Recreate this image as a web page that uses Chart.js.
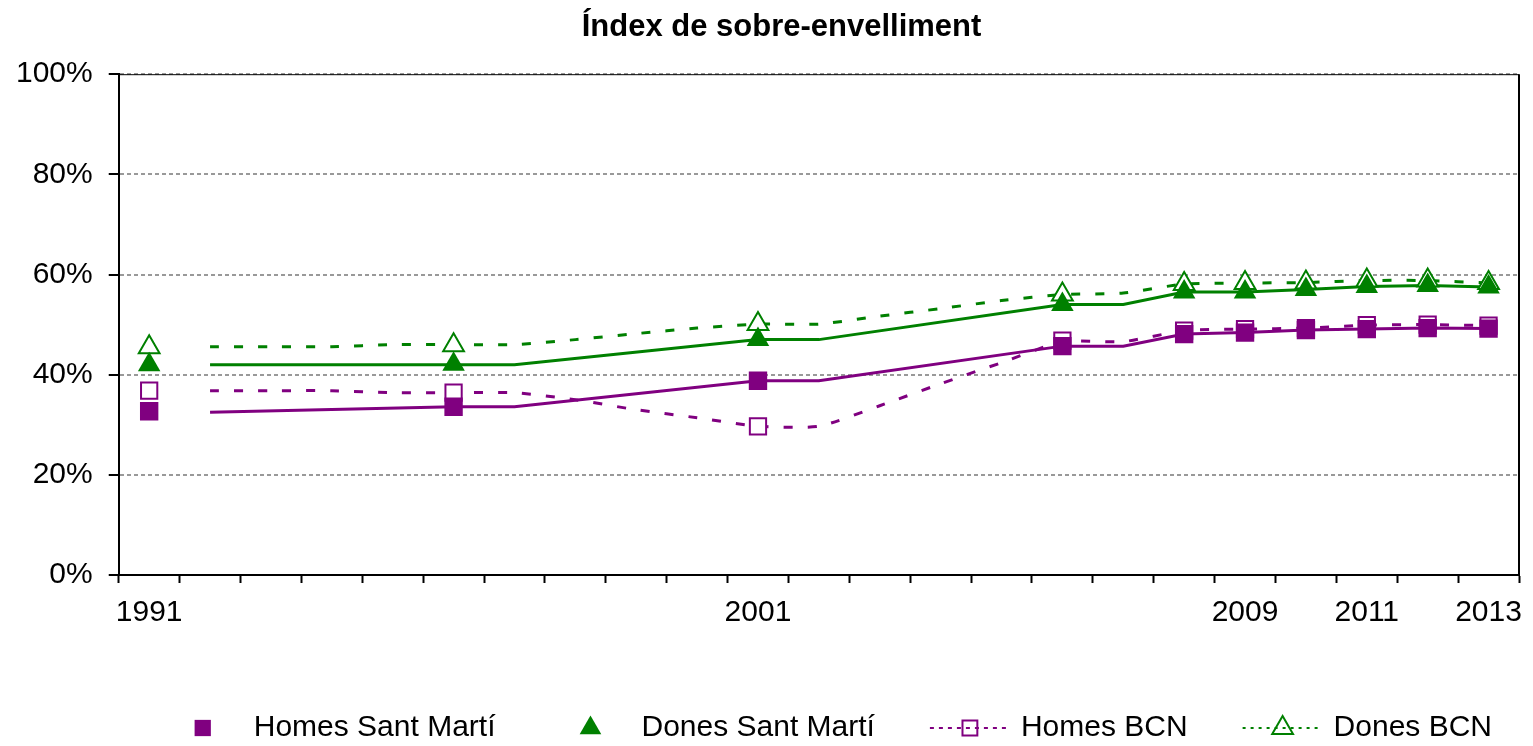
<!DOCTYPE html>
<html>
<head>
<meta charset="utf-8">
<title>Índex de sobre-envelliment</title>
<script src="https://cdn.jsdelivr.net/npm/chart.js@4/dist/chart.umd.min.js"></script>
<style>
  html, body { margin: 0; padding: 0; background: #fff; }
  #wrap { width: 1533px; height: 746px; }
</style>
</head>
<body>
<div id="wrap"><canvas id="chart"></canvas></div>
<script>
// --- DATA ---
const years = ['1991', '1992', '1993', '1994', '1995', '1996', '1997', '1998', '1999', '2000', '2001', '2002',
    '2003', '2004', '2005', '2006', '2007', '2008', '2009', '2010', '2011', '2012', '2013'];
const shownYears = ['1991', '2001', '2009', '2011', '2013'];

// markers
const markerYears = ['1991', '1996', '2001', '2006', '2008', '2009', '2010', '2011', '2012', '2013'];
const homesSantMarti = [32.7, 33.6, 38.8, 45.7, 48.1, 48.4, 48.9, 49.1, 49.3, 49.2];
const donesSantMarti = [42.0, 42.1, 47.0, 54.0, 56.5, 56.5, 57.0, 57.6, 57.8, 57.5];
const homesBCN = [36.8, 36.4, 29.7, 46.8, 48.8, 49.1, 49.3, 49.9, 50.0, 49.8];
const donesBCN = [45.5, 45.9, 50.1, 56.0, 58.1, 58.3, 58.4, 58.8, 58.8, 58.3];

// solid lines (Sant Martí)
const santMartiLineYears = ['1992', '1996', '1997', '2001', '2002', '2006', '2007', '2008', '2009', '2010', '2011', '2012', '2013'];
const homesSantMartiLine = [32.5, 33.6, 33.6, 38.8, 38.8, 45.7, 45.7, 48.1, 48.4, 48.9, 49.1, 49.3, 49.2];
const donesSantMartiLine = [42.0, 42.0, 42.0, 47.0, 47.0, 54.0, 54.0, 56.5, 56.5, 57.0, 57.6, 57.8, 57.5];

// dashed lines (BCN)
const bcnLineYears = ['1992', '1993', '1994', '1995', '1996', '1997', '1998', '1999', '2000', '2001', '2002',
    '2003', '2004', '2005', '2006', '2007', '2008', '2009', '2010', '2011', '2012', '2013'];
const homesBCNLine = [36.8, 36.8, 36.8, 36.4, 36.4, 36.4, 35.0, 33.0, 31.4, 29.7, 29.7,
    33.8, 38.2, 42.4, 46.6, 46.6, 48.8, 49.1, 49.3, 49.9, 50.0, 49.8];
const donesBCNLine = [45.6, 45.6, 45.6, 46.0, 46.0, 46.0, 47.0, 48.2, 49.3, 50.1, 50.1,
    51.7, 53.2, 54.8, 56.0, 56.3, 58.1, 58.3, 58.4, 58.8, 58.8, 58.3];

const purple = '#800080';
const green = '#008000';
const FONT = '"Liberation Sans", Arial, sans-serif';

function pts(xs, ys) {
    return xs.map((x, i) => ({ x: x, y: ys[i] }));
}

// --- PLUGINS ---
// title sits a little right of the canvas centre in the original
const titleShift = {
    id: 'titleShift',
    afterLayout(chart) {
        if (chart.titleBlock) chart.titleBlock.left += 40;
    }
};

const frame = {
    id: 'frame',
    beforeDatasetsDraw(chart) {
        const { ctx, chartArea: a } = chart;
        ctx.save();
        ctx.strokeStyle = '#000';
        ctx.lineWidth = 1;
        ctx.beginPath();
        ctx.moveTo(a.left, a.top + 0.5);
        ctx.lineTo(a.right, a.top + 0.5);
        ctx.stroke();
        ctx.lineWidth = 2;
        ctx.beginPath();
        ctx.moveTo(a.right, a.top);
        ctx.lineTo(a.right, a.bottom);
        ctx.stroke();
        ctx.restore();
    }
};

const excelLegend = {
    id: 'excelLegend',
    afterDraw(chart) {
        const ctx = chart.ctx;
        const y = chart.height - 18;
        let x = chart.chartArea.left + 44;
        ctx.save();
        ctx.font = '30px ' + FONT;
        ctx.textBaseline = 'middle';
        ctx.textAlign = 'left';
        chart.data.datasets.filter(d => d.inLegend).forEach(ds => {
            const cx = x + 40;
            ctx.fillStyle = ds.legendFill;
            ctx.strokeStyle = ds.borderColor;
            ctx.lineWidth = ds.pointBorderWidth;
            Chart.helpers.drawPoint(ctx, {
                pointStyle: ds.pointStyle, radius: ds.legendRadius,
                borderWidth: ds.pointBorderWidth, rotation: 0
            }, cx, y);
            if (ds.legendDash) {
                ctx.lineWidth = 2;
                ctx.setLineDash(ds.legendDash);
                ctx.beginPath();
                ctx.moveTo(x, y);
                ctx.lineTo(x + 80, y);
                ctx.stroke();
                ctx.setLineDash([]);
            }
            ctx.fillStyle = '#000';
            ctx.fillText(ds.label, x + 91, y);
            x += 91 + ctx.measureText(ds.label).width + 55;
        });
        ctx.restore();
    }
};

// --- CHART ---
const ctx = document.getElementById('chart').getContext('2d');
const chart = new Chart(ctx, {
    type: 'line',
    data: {
        labels: years,
        datasets: [
            {
                label: 'Homes Sant Martí', inLegend: true,
                data: pts(markerYears, homesSantMarti), showLine: false,
                pointStyle: 'rect', pointRadius: 13, pointBorderWidth: 0,
                pointBackgroundColor: purple, borderColor: purple, backgroundColor: purple,
                legendFill: purple, legendRadius: 11.5
            },
            {
                label: 'Dones Sant Martí', inLegend: true,
                data: pts(markerYears, donesSantMarti), showLine: false,
                pointStyle: 'triangle', pointRadius: 13, pointBorderWidth: 0,
                pointBackgroundColor: green, borderColor: green, backgroundColor: green,
                legendFill: green, legendRadius: 12.5
            },
            {
                label: 'Homes BCN', inLegend: true,
                data: pts(markerYears, homesBCN), showLine: false,
                pointStyle: 'rect', pointRadius: 11.5, pointBorderWidth: 2,
                pointBackgroundColor: '#fff', borderColor: purple, backgroundColor: '#fff',
                legendFill: 'rgba(0,0,0,0)', legendRadius: 10.5, legendDash: [4, 5]
            },
            {
                label: 'Dones BCN', inLegend: true,
                data: pts(markerYears, donesBCN), showLine: false,
                pointStyle: 'triangle', pointRadius: 12, pointBorderWidth: 2,
                pointBackgroundColor: '#fff', borderColor: green, backgroundColor: '#fff',
                legendFill: 'rgba(0,0,0,0)', legendRadius: 12, legendDash: [3, 5]
            },
            {
                label: 'Homes Sant Martí (línia)',
                data: pts(santMartiLineYears, homesSantMartiLine),
                borderColor: purple, borderWidth: 3, pointRadius: 0, tension: 0
            },
            {
                label: 'Dones Sant Martí (línia)',
                data: pts(santMartiLineYears, donesSantMartiLine),
                borderColor: green, borderWidth: 3, pointRadius: 0, tension: 0
            },
            {
                label: 'Homes BCN (línia)',
                data: pts(bcnLineYears, homesBCNLine),
                borderColor: purple, borderWidth: 3, borderDash: [9, 15], pointRadius: 0, tension: 0.2
            },
            {
                label: 'Dones BCN (línia)',
                data: pts(bcnLineYears, donesBCNLine),
                borderColor: green, borderWidth: 3, borderDash: [9, 15], pointRadius: 0, tension: 0.2
            }
        ]
    },
    options: {
        responsive: true,
        maintainAspectRatio: false,
        animation: false,
        layout: { padding: { left: 0, right: 10, top: 0, bottom: 103 } },
        plugins: {
            legend: { display: false },
            tooltip: { enabled: false },
            title: {
                display: true,
                text: 'Índex de sobre-envelliment',
                color: '#000',
                font: { family: FONT, size: 31, weight: 'bold' },
                padding: { top: 9, bottom: 28 }
            }
        },
        scales: {
            x: {
                offset: true,
                afterFit: s => { s.paddingRight = 0; },
                grid: {
                    offset: true, drawOnChartArea: false, drawTicks: true,
                    tickLength: 8, tickColor: '#000', tickWidth: 2
                },
                border: { display: true, color: '#000', width: 2 },
                ticks: {
                    autoSkip: false, maxRotation: 0, minRotation: 0,
                    padding: 12, color: '#000',
                    font: { family: FONT, size: 30 },
                    callback: (v, i) => shownYears.includes(years[i]) ? years[i] : ''
                }
            },
            y: {
                min: 0, max: 100,
                grid: {
                    color: '#999', lineWidth: 2,
                    drawTicks: true, tickLength: 10, tickColor: '#000', tickWidth: 2, tickBorderDash: []
                },
                border: { display: true, color: '#000', width: 2, dash: [4, 3] },
                ticks: {
                    stepSize: 20, padding: 16, color: '#000',
                    font: { family: FONT, size: 30 },
                    callback: v => v + '%'
                }
            }
        }
    },
    plugins: [titleShift, frame, excelLegend]
});
</script>
</body>
</html>
